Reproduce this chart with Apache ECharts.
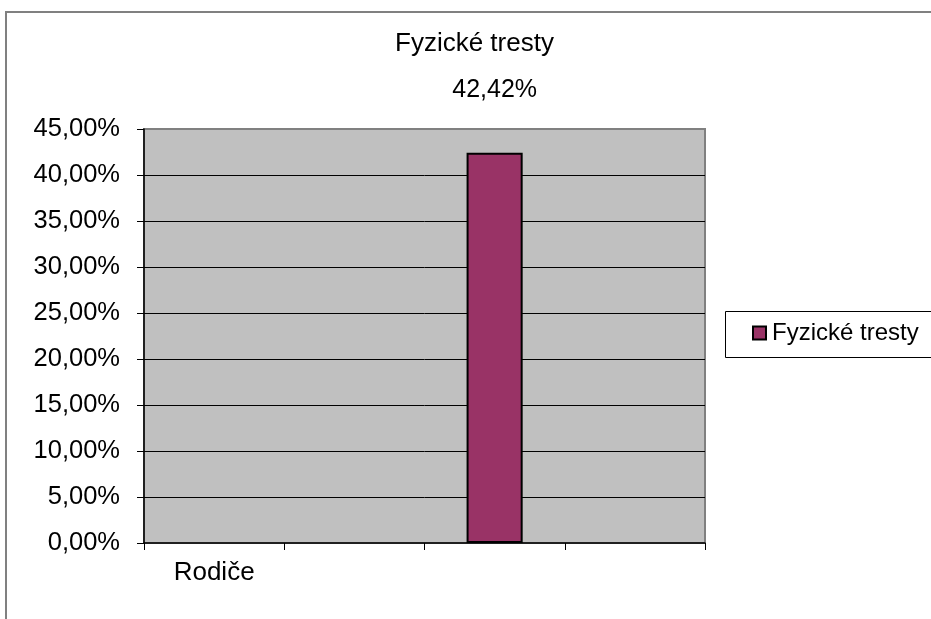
<!DOCTYPE html>
<html>
<head>
<meta charset="utf-8">
<script src="https://cdn.jsdelivr.net/npm/echarts@6/dist/echarts.min.js"></script>
<style>
  html, body { margin: 0; padding: 0; background: #fff; }
  #chart { width: 931px; height: 619px; }
</style>
</head>
<body>
<div id="chart"></div>
<script>
// Category slots along the x axis (only the first one carries a name)
const categories = ['Rodiče', '', '', ''];
// Share of answers for the single series, in percent
const seriesName = 'Fyzické tresty';
const seriesValues = [null, null, 42.42, null];
// Value axis range and step, in percent
const yMin = 0;
const yMax = 45;
const yStep = 5;

const FONT = '"Liberation Sans", Arial, sans-serif';
const pct = v => v.toFixed(2).replace('.', ',') + '%';

const chart = echarts.init(document.getElementById('chart'), null, { renderer: 'canvas' });

chart.setOption({
  animation: false,
  backgroundColor: '#ffffff',
  textStyle: { fontFamily: FONT, color: '#000' },
  title: {
    text: seriesName,
    left: 390,
    top: 26,
    textStyle: { fontFamily: FONT, fontSize: 26, fontWeight: 'normal', color: '#000' }
  },
  graphic: [
    {
      // outer chart frame
      type: 'rect',
      shape: { x: 6, y: 12, width: 1000, height: 700 },
      style: { fill: 'none', stroke: '#808080', lineWidth: 2 },
      z: 0
    },
    {
      // legend frame
      type: 'rect',
      shape: { x: 725.5, y: 311.5, width: 300, height: 46 },
      style: { fill: '#fff', stroke: '#000', lineWidth: 1 },
      z: 1
    }
  ],
  legend: {
    data: [seriesName],
    left: 752,
    top: 321,
    padding: 0,
    icon: 'rect',
    itemWidth: 13,
    itemHeight: 13,
    itemGap: 6,
    z: 5,
    itemStyle: { borderColor: '#000', borderWidth: 2 },
    textStyle: { fontFamily: FONT, fontSize: 24, color: '#000', padding: [0, 0, 0, 1] }
  },
  grid: {
    left: 144,
    top: 129,
    right: 226,
    bottom: 76,
    show: true,
    backgroundColor: '#C0C0C0',
    borderColor: '#808080',
    borderWidth: 2,
    containLabel: false
  },
  xAxis: {
    type: 'category',
    data: categories,
    boundaryGap: true,
    axisLine: { show: true, lineStyle: { color: '#000', width: 1.5 } },
    axisTick: { show: true, length: 7, lineStyle: { color: '#000', width: 1 } },
    axisLabel: { fontFamily: FONT, fontSize: 26, color: '#000', margin: 17 },
    splitLine: { show: false }
  },
  yAxis: {
    type: 'value',
    min: yMin,
    max: yMax,
    interval: yStep,
    axisLine: { show: true, lineStyle: { color: '#000', width: 1.5 } },
    axisTick: { show: true, length: 7, lineStyle: { color: '#000', width: 1 } },
    axisLabel: { fontFamily: FONT, fontSize: 25.5, color: '#000', margin: 24, formatter: pct },
    splitLine: { show: true, showMinLine: false, showMaxLine: false, lineStyle: { color: '#000', width: 1 } }
  },
  series: [
    {
      name: seriesName,
      type: 'bar',
      data: seriesValues,
      barWidth: '40%',
      itemStyle: { color: '#993366', borderColor: '#000', borderWidth: 2 },
      label: {
        show: true,
        position: 'top',
        distance: 50,
        fontFamily: FONT,
        fontSize: 25,
        color: '#000',
        formatter: p => pct(p.value)
      }
    }
  ]
});
</script>
</body>
</html>
